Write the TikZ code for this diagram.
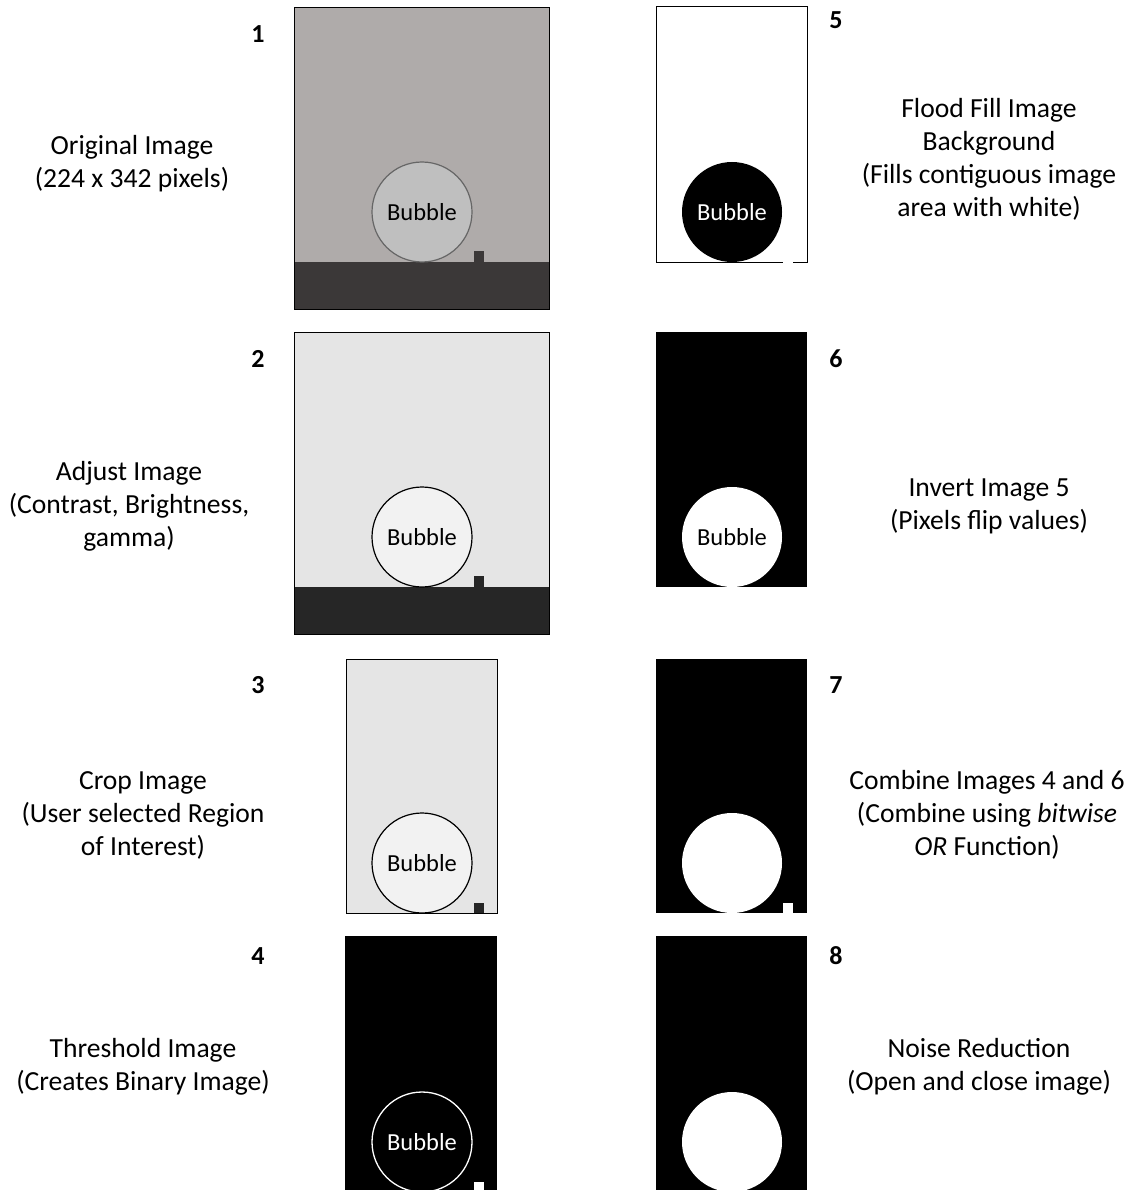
\documentclass[tikz,border=0pt]{standalone}
\usepackage{fontspec}
\setmainfont{Carlito}
\begin{document}
\begin{tikzpicture}[x=1pt,y=-1pt,
  lbl/.style={align=center,font=\fontsize{27.6}{33}\selectfont,inner sep=0pt},
  num/.style={font=\fontsize{26}{30}\selectfont\bfseries,inner sep=0pt},
  bub/.style={circle,minimum size=100pt,inner sep=0pt,font=\fontsize{24.5}{28}\selectfont}]
\useasboundingbox[fill=white] (0,0) rectangle (1135,1190);
\definecolor{gA}{RGB}{175,171,170}
\definecolor{gAc}{RGB}{191,191,191}
\definecolor{gAb}{RGB}{59,56,56}
\definecolor{gB}{RGB}{229,229,229}
\definecolor{gBc}{RGB}{242,242,242}
\definecolor{gBb}{RGB}{38,38,38}
% Panel 1
\fill[gA] (294,7) rectangle (549,262);
\fill[gAb] (294,262) rectangle (549,309);
\fill[gAb] (474,251) rectangle (484,262);
\draw[black,line width=0.8pt] (294,7) rectangle (549,309);
\node[bub,fill=gAc,draw=gray!80!black,line width=1.2pt] (b1) at (422,212) {Bubble};
% Panel 2
\fill[gB] (294,332) rectangle (549,587);
\fill[gBb] (294,587) rectangle (549,634);
\fill[gBb] (474,576) rectangle (484,587);
\draw[black,line width=0.8pt] (294,332) rectangle (549,634);
\node[bub,fill=gBc,draw=black,line width=1.2pt] (b2) at (422,537) {Bubble};
% Panel 3
\fill[gB] (346,659) rectangle (497,913);
\fill[gBb] (474,903) rectangle (484,913);
\node[bub,fill=gBc,draw=black,line width=1.2pt] (b3) at (422,863) {Bubble};
\draw[black,line width=1pt] (346,659) rectangle (497,913);
% Panel 4
\fill[black] (345,936) rectangle (497,1190);
\fill[white] (474,1182) rectangle (484,1190);
\node[bub,draw=white,line width=1.3pt,text=white] (b4) at (422,1142) {Bubble};
% Panel 5
\draw[black,line width=1pt] (656,7) rectangle (807,262);
\node[bub,fill=black,text=white] (b5) at (732,212) {Bubble};
\fill[white] (783,260.8) rectangle (793,263.2);
% Panel 6
\fill[black] (656,332) rectangle (807,587);
\node[bub,fill=white,text=black] (b6) at (732,537) {Bubble};
% Panel 7
\fill[black] (656,659) rectangle (807,913);
\node[bub,fill=white] (b7) at (732,863) {};
\fill[white] (783,903) rectangle (793,913);
% Panel 8
\fill[black] (656,936) rectangle (807,1190);
\node[bub,fill=white] (b8) at (732,1142) {};
% numbers
\node[num] (n1) at (258,34) {1};
\node[num] (n2) at (258,359) {2};
\node[num] (n3) at (258,685) {3};
\node[num] (n4) at (258,956) {4};
\node[num] (n5) at (836,20) {5};
\node[num] (n6) at (836,359) {6};
\node[num] (n7) at (836,685) {7};
\node[num] (n8) at (836,956) {8};
% labels
\node[lbl] (t1) at (132,164) {Original Image\\(224 x 342 pixels)};
\node[lbl] (t2) at (129,506) {Adjust Image\\(Contrast, Brightness,\\gamma)};
\node[lbl] (t3) at (143,815) {Crop Image\\(User selected Region\\of Interest)};
\node[lbl] (t4) at (143,1067) {Threshold Image\\(Creates Binary Image)};
\node[lbl] (t5) at (989,159) {Flood Fill Image\\Background\\(Fills contiguous image\\area with white)};
\node[lbl] (t6) at (989,506) {Invert Image 5\\(Pixels flip values)};
\node[lbl] (t7) at (987,815) {Combine Images 4 and 6\\(Combine using \emph{bitwise}\\\emph{OR} Function)};
\node[lbl] (t8) at (979,1067) {Noise Reduction\\(Open and close image)};
\end{tikzpicture}
\end{document}
